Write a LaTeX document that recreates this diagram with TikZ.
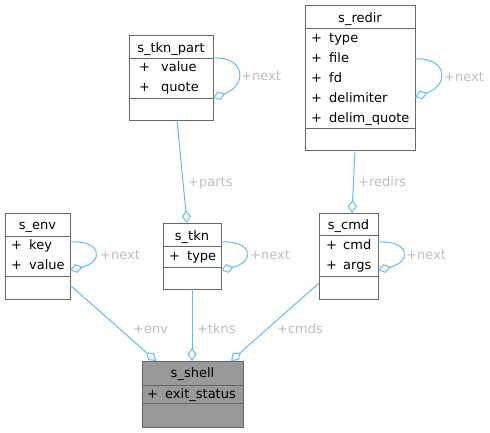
\documentclass[tikz,border=0pt]{standalone}
\usepackage{fontspec}
\setmainfont{DejaVu Sans}
\usetikzlibrary{arrows.meta,calc}
\definecolor{edgec}{HTML}{63B8FF}
\definecolor{labc}{HTML}{BDBDBD}
\definecolor{boxc}{HTML}{666666}
\definecolor{shellfill}{HTML}{999999}
\begin{document}
\begin{tikzpicture}[x=1pt,y=-1pt,
  cls/.style={draw=boxc, line width=1pt, fill=white, anchor=north west, inner sep=0pt, outer sep=0pt},
  sep/.style={draw=boxc, line width=1pt},
  txt/.style={font=\fontsize{13}{15}\selectfont, inner sep=0pt, text=black, anchor=base},
  attr/.style={font=\fontsize{13}{15}\selectfont, inner sep=0pt, text=black, anchor=base west},
  lab/.style={font=\fontsize{13}{15}\selectfont, inner sep=0pt, text=labc, anchor=base west},
  rel/.style={draw=edgec, line width=1pt, -{Diamond[open,length=13pt,width=9pt]}},
]
\useasboundingbox (0,0) rectangle (490,432);

% s_tkn_part
\node[cls, minimum width=84pt, minimum height=85pt] (tknpart) at (129,35) {};
\draw[sep] (129,58) -- (213,58) (129,98) -- (213,98);
\node[txt] (tknpartT) at (171,52) {s\_tkn\_part};
\node[attr] (tknpartP1) at (139,71) {+};
\node[attr] (tknpartA1) at (161,71) {value};
\node[attr] (tknpartP2) at (139,91) {+};
\node[attr] (tknpartA2) at (161,91) {quote};

% s_redir
\node[cls, minimum width=110pt, minimum height=145pt] (redir) at (305,5) {};
\draw[sep] (305,28) -- (415,28) (305,128) -- (415,128);
\node[txt] (redirT) at (360,22) {s\_redir};
\node[attr] (redirP1) at (311,42) {+};
\node[attr] (redirA1) at (329,42) {type};
\node[attr] (redirP2) at (311,62) {+};
\node[attr] (redirA2) at (329,62) {file};
\node[attr] (redirP3) at (311,82) {+};
\node[attr] (redirA3) at (329,82) {fd};
\node[attr] (redirP4) at (311,102) {+};
\node[attr] (redirA4) at (329,102) {delimiter};
\node[attr] (redirP5) at (311,122) {+};
\node[attr] (redirA5) at (329,122) {delim\_quote};

% s_env
\node[cls, minimum width=65pt, minimum height=86pt] (env) at (5,213) {};
\draw[sep] (5,236) -- (70,236) (5,276) -- (70,276);
\node[txt] (envT) at (37.5,229) {s\_env};
\node[attr] (envP1) at (11,249) {+};
\node[attr] (envA1) at (29,249) {key};
\node[attr] (envP2) at (11,269) {+};
\node[attr] (envA2) at (29,269) {value};

% s_tkn
\node[cls, minimum width=58pt, minimum height=66pt] (tkn) at (163,223) {};
\draw[sep] (163,246) -- (221,246) (163,267) -- (221,267);
\node[txt] (tknT) at (192,240) {s\_tkn};
\node[attr] (tknP1) at (169,260) {+};
\node[attr] (tknA1) at (187,260) {type};

% s_cmd
\node[cls, minimum width=59pt, minimum height=86pt] (cmd) at (319,213) {};
\draw[sep] (319,235) -- (378,235) (319,276) -- (378,276);
\node[txt] (cmdT) at (348.5,229) {s\_cmd};
\node[attr] (cmdP1) at (326,249) {+};
\node[attr] (cmdA1) at (343,249) {cmd};
\node[attr] (cmdP2) at (326,269) {+};
\node[attr] (cmdA2) at (343,269) {args};

% s_shell
\node[cls, fill=shellfill, minimum width=101pt, minimum height=66pt] (shell) at (142,361) {};
\draw[sep] (142,385) -- (243,385) (142,403) -- (243,403);
\node[txt] (shellT) at (192.5,377) {s\_shell};
\node[attr] (shellP1) at (147,398) {+};
\node[attr] (shellA1) at (165,398) {exit\_status};

% relations
\draw[rel] ($(tknpart.south)+(6,0)$) -- ($(tkn.north)+(-5,0)$);
\node[lab] (lparts) at (188,186) {+parts};
\draw[rel] ($(redir.south)+(-5,0)$) -- ($(cmd.north)+(3.5,0)$);
\node[lab] (lredirs) at (358,186) {+redirs};
\draw[rel] ($(env.south east)+(0,-14)$) -- ($(shell.north west)+(14,0)$);
\node[lab] (lenv) at (133,333) {+env};
\draw[rel] (tkn.south) -- (tkn.south |- shell.north);
\node[lab] (ltkns) at (197,333) {+tkns};
\draw[rel] ($(cmd.south west)+(0,-16)$) -- ($(shell.north east)+(-12,0)$);
\node[lab] (lcmds) at (277,333) {+cmds};

% self loops
\draw[rel] ($(tknpart.north east)+(0,23)$) .. controls +(32,-2) and +(35,-13) .. ($(tknpart.north east)+(0,63)$);
\node[lab] (lnext1) at (241,80) {+next};
\draw[rel] ($(redir.north east)+(0,54)$) .. controls +(32,-2) and +(35,-12) .. ($(redir.north east)+(0,92)$);
\node[lab] (lnext2) at (444,81) {+next};
\draw[rel] ($(env.north east)+(0,29)$) .. controls +(32,-2) and +(34,-8) .. ($(env.north east)+(0,57)$);
\node[lab] (lnext3) at (100,259) {+next};
\draw[rel] ($(tkn.north east)+(0,19)$) .. controls +(32,-2) and +(34,-8) .. ($(tkn.north east)+(0,47)$);
\node[lab] (lnext4) at (250,259) {+next};
\draw[rel] ($(cmd.north east)+(0,29)$) .. controls +(32,-2) and +(34,-8) .. ($(cmd.north east)+(0,57)$);
\node[lab] (lnext5) at (406,259) {+next};
\end{tikzpicture}
\end{document}
